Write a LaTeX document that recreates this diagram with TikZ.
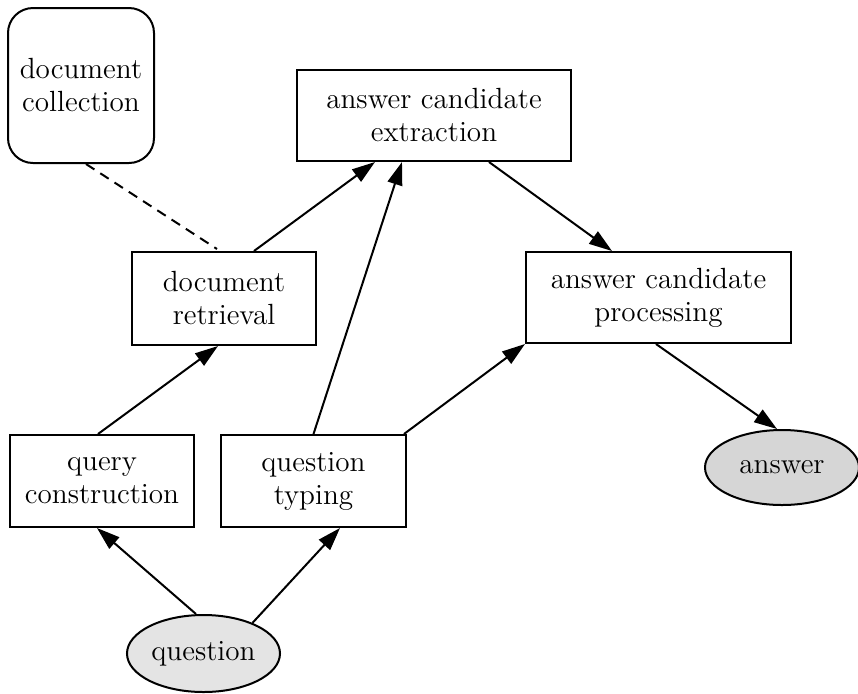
\documentclass[tikz,border=0pt]{standalone}
\usetikzlibrary{shapes.geometric,arrows.meta}
\definecolor{qfill}{RGB}{228,228,228}
\definecolor{afill}{RGB}{214,214,214}
\begin{document}
\begin{tikzpicture}[x=0.5pt,y=-0.5pt,
  every node/.style={font=\fontsize{14.6}{16.5}\selectfont, align=center, inner sep=0pt, line width=1pt},
  box/.style={draw, rectangle},
  oval/.style={draw, ellipse},
  arr/.style={line width=1pt, -{Triangle[length=11.5pt,width=7.5pt]}},
  dline/.style={line width=1pt, dash pattern=on 5pt off 3.5pt}]
\useasboundingbox (0,0) rectangle (858,693);
\node[box, rounded corners=12.5pt, minimum width=73pt, minimum height=77.5pt] (dc) at (81,85.5) {document\\collection};
\node[box, minimum width=137pt, minimum height=45.5pt] (ace) at (434,115.5) {answer candidate\\extraction};
\node[box, minimum width=92pt, minimum height=46.5pt] (dr) at (224,298.5) {document\\retrieval};
\node[box, minimum width=132.5pt, minimum height=45.5pt] (acp) at (658.5,297.5) {answer candidate\\processing};
\node[box, minimum width=92pt, minimum height=46pt] (qc) at (102,481) {query\\construction};
\node[box, minimum width=92.5pt, minimum height=46pt] (qt) at (313.5,481) {question\\typing};
\node[oval, fill=qfill, minimum width=76.5pt, minimum height=38.5pt] (q) at (203.5,653.5) {question};
\node[oval, fill=afill, minimum width=77pt, minimum height=37.5pt] (a) at (782,467.5) {answer};

\draw[dline] ([xshift=2.5pt]dc.south) -- ([xshift=-3.5pt,yshift=1pt]dr.north);
\draw[arr] ([xshift=15pt]dr.north) -- ([xshift=-29.5pt]ace.south);
\draw[arr] (qt.north) -- ([xshift=-16pt]ace.south);
\draw[arr] ([xshift=-2pt]qc.north) -- ([xshift=-3pt]dr.south);
\draw[arr] ([xshift=-1.5pt]qt.north east) -- (acp.south west);
\draw[arr] ([xshift=27.5pt]ace.south) -- ([xshift=-23.25pt]acp.north);
\draw[arr] ([xshift=-1.25pt]acp.south) -- ([xshift=-2.5pt]a.north);
\draw[arr] ([xshift=-3.75pt]q.north) -- ([xshift=-2.5pt]qc.south);
\draw[arr] (q.32) -- ([xshift=13.25pt]qt.south);
\end{tikzpicture}
\end{document}
